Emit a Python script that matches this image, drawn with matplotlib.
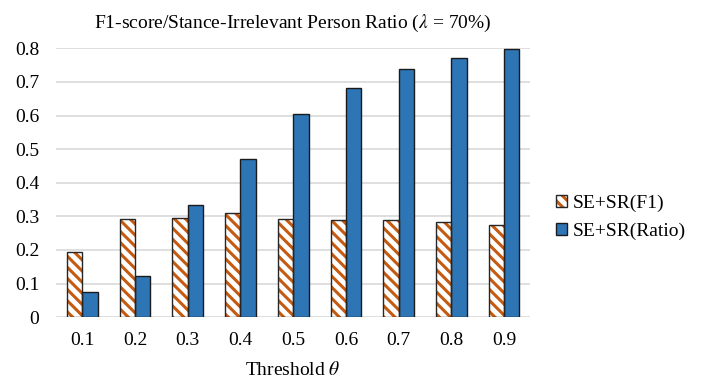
import matplotlib
matplotlib.use("Agg")
import matplotlib.pyplot as plt
from matplotlib.patches import Patch
from matplotlib.legend_handler import HandlerTuple
import numpy as np

thresholds = ["0.1", "0.2", "0.3", "0.4", "0.5", "0.6", "0.7", "0.8", "0.9"]
f1_scores = [0.195, 0.293, 0.295, 0.310, 0.293, 0.290, 0.288, 0.282, 0.273]
ratios = [0.075, 0.123, 0.333, 0.470, 0.605, 0.682, 0.738, 0.770, 0.797]

ORANGE = "#C55A11"
BLUE = "#2E75B6"
HATCH = "\\\\\\"

plt.rcParams["font.family"] = ["Liberation Serif", "DejaVu Serif"]
plt.rcParams["mathtext.fontset"] = "stix"
plt.rcParams["hatch.linewidth"] = 2.2

fig = plt.figure(figsize=(7.04, 3.78), dpi=100)
ax = fig.add_axes([0.0795, 0.161, 0.674, 0.711])

x = np.arange(len(thresholds))
w = 0.29
# hatch takes the edge colour, so draw the orange stripes first, then the black outline
ax.bar(x - w / 2, f1_scores, width=w, facecolor="white", edgecolor=ORANGE,
       linewidth=0, hatch=HATCH, zorder=2)
ax.bar(x - w / 2, f1_scores, width=w, fill=False, edgecolor="#262626",
       linewidth=1.0, zorder=3)
ax.bar(x + w / 2, ratios, width=w, color=BLUE, edgecolor="#1a1a1a",
       linewidth=1.0, zorder=2)

ax.set_xlim(-0.5, len(thresholds) - 0.5)
ax.set_ylim(0, 0.8)
ax.set_yticks(np.arange(0, 0.81, 0.1))
ax.set_yticklabels(["0"] + [f"{v:.1f}" for v in np.arange(0.1, 0.81, 0.1)])
ax.set_xticks(x)
ax.set_xticklabels(thresholds)
ax.tick_params(axis="both", length=0, labelsize=14, colors="black")
ax.tick_params(axis="x", pad=11)
ax.tick_params(axis="y", pad=12)
ax.grid(axis="y", color="#D9D9D9", linewidth=1.2, zorder=0)
ax.set_axisbelow(True)
for s in ax.spines.values():
    s.set_visible(False)

ax.set_xlabel(r"Threshold $\theta$", fontsize=14, labelpad=8)
ax.set_title(r"F1-score/Stance-Irrelevant Person Ratio ($\lambda$ = 70%)",
             fontsize=14, pad=15)

f1_handle = (Patch(facecolor="white", edgecolor=ORANGE, hatch=HATCH, linewidth=0),
             Patch(fill=False, edgecolor="#262626", linewidth=1.0))
ratio_handle = Patch(facecolor=BLUE, edgecolor="#1a1a1a", linewidth=1.0)
ax.legend([f1_handle, ratio_handle], ["SE+SR(F1)", "SE+SR(Ratio)"],
          handler_map={tuple: HandlerTuple(ndivide=1, pad=0)},
          loc="center left", bbox_to_anchor=(1.016, 0.372), frameon=False,
          fontsize=14, handlelength=0.6, handleheight=0.6, handletextpad=0.3,
          labelspacing=0.55)

fig.savefig("out.png", dpi=100)
